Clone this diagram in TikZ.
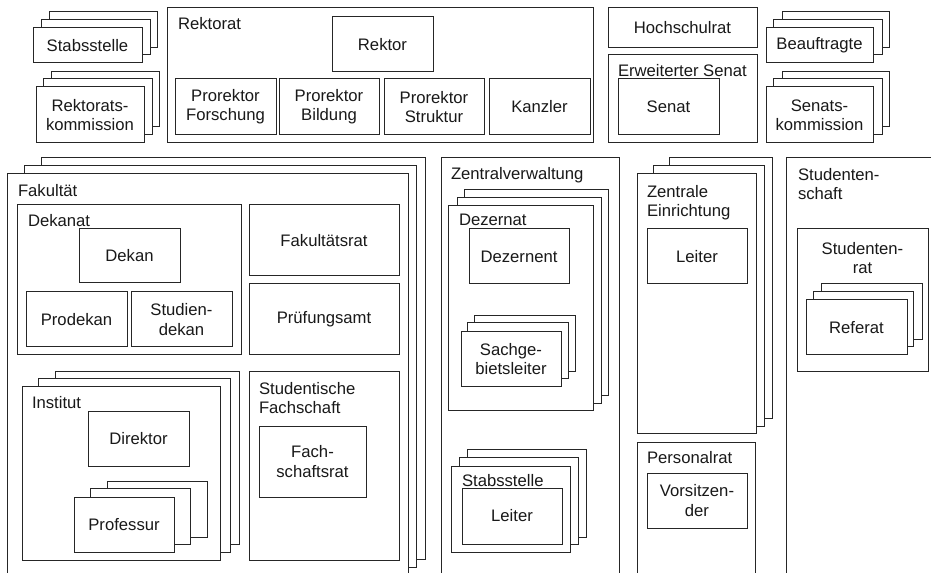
\documentclass[tikz,border=0pt]{standalone}
\usepackage{fontspec}
\setmainfont{Liberation Sans}
\newcommand\fs{\fontsize{12.5}{14.4}\selectfont}
\tikzset{
 box/.style={draw=black!85, fill=white, line width=0.75pt, inner sep=0pt, outer sep=0pt, align=center, font=\fs, text=black!90},
 lbl/.style={inner sep=0pt, outer sep=0pt, font=\fs, text=black!90},
}
\newcommand\bx[7][]{\node[box,minimum width={(#5-#3)*0.75pt},minimum height={(#6-#4)*0.75pt},#1] (#2) at ({(#3+#5)/2},{(#4+#6)/2}) {#7};}
\begin{document}
\begin{tikzpicture}[x=0.75pt,y=-0.75pt]
\clip (0,0) rectangle (931,573);
\fill[white] (0,0) rectangle (931,573);
% top-left stacks
\bx{stabA3}{49}{12}{157}{48}{}
\bx{stabA2}{41}{20}{150}{55}{}
\bx{stabA}{33}{28}{142}{63}{Stabsstelle}
\bx{rkA3}{51}{72}{159}{127}{}
\bx{rkA2}{43}{79}{152}{135}{}
\bx{rk}{36}{87}{144}{143}{Rektorats-\\kommission}
% Rektorat
\bx{rektorat}{167}{8}{593}{143}{}
\node[lbl,anchor=base west] (rektoratL) at (178,30) {Rektorat};
\bx{rektor}{332}{17}{433}{72}{Rektor}
\bx{prf}{175}{79}{276}{135}{Prorektor\\Forschung}
\bx{prb}{279}{79}{379}{135}{Prorektor\\Bildung}
\bx{prs}{384}{79}{484}{135}{Prorektor\\Struktur}
\bx{kanzler}{489}{79}{590}{135}{Kanzler}
% Hochschulrat / Senat
\bx{hsr}{608}{8}{757}{48}{Hochschulrat}
\bx{esenat}{608}{55}{757}{143}{}
\bx{senat}{618}{79}{719}{135}{Senat}
\node[lbl,anchor=base west] (esenatL) at (618,77) {Erweiterter Senat};
% Beauftragte / Senatskommission
\bx{bfA3}{782}{12}{889}{48}{}
\bx{bfA2}{773}{20}{882}{55}{}
\bx{bf}{766}{28}{873}{63}{Beauftragte}
\bx{skA3}{782}{72}{889}{127}{}
\bx{skA2}{773}{79}{882}{135}{}
\bx{sk}{766}{87}{873}{143}{Senats-\\kommission}
% Fakultaet
\bx{fak3}{41}{158}{425}{559}{}
\bx{fak2}{24}{166}{416}{567}{}
\bx{fak}{7}{174}{408}{590}{}
\node[lbl,anchor=base west] (fakL) at (18,197) {Fakultät};
\bx{dekanat}{17}{205}{241}{355}{}
\bx{dekan}{79}{229}{180}{283}{Dekan}
\node[lbl,anchor=base west] (dekanatL) at (28,227) {Dekanat};
\bx{prodekan}{26}{292}{127}{347}{Prodekan}
\bx{sdekan}{131}{292}{232}{347}{Studien-\\dekan}
\bx{fakrat}{249}{205}{399}{276}{Fakultätsrat}
\bx{pamt}{249}{284}{399}{355}{Prüfungsamt}
\bx{inst3}{55}{371}{239}{544}{}
\bx{inst2}{38}{378}{230}{552}{}
\bx{inst}{22}{386}{220}{560}{}
\node[lbl,anchor=base west] (instL) at (32,408) {Institut};
\bx{dir}{88}{411}{189}{466}{Direktor}
\bx{prof3}{107}{481}{207}{537}{}
\bx{prof2}{90}{488}{190}{544}{}
\bx{prof}{74}{497}{174}{552}{Professur}
\bx{sfs}{249}{371}{399}{560}{}
\node[lbl,anchor=north west,align=left] (sfsL) at (259,382) {Studentische\\Fachschaft};
\bx{fsr}{259}{426}{366}{497}{Fach-\\schaftsrat}
% Zentralverwaltung
\bx{zv}{441}{158}{619}{590}{}
\node[lbl,anchor=base west] (zvL) at (451,179.5) {Zentralverwaltung};
\bx{dez3}{464}{190}{608}{395}{}
\bx{dez2}{457}{198}{601}{403}{}
\bx{dez}{448}{206}{593}{410}{}
\bx{dezernent}{469}{229}{569}{284}{Dezernent}
\node[lbl,anchor=base west] (dezL) at (459,226) {Dezernat};
\bx{sgl3}{474}{316}{575}{371}{}
\bx{sgl2}{467}{323}{568}{378}{}
\bx{sgl}{461}{332}{561}{386}{Sachge-\\bietsleiter}
\bx{stb3}{467}{449}{586}{537}{}
\bx{stb2}{459}{457}{578}{544}{}
\bx{stb}{451}{466}{570}{552}{}
\bx{stbleiter}{462}{488}{562}{544}{Leiter}
\node[lbl,anchor=base west] (stbL) at (462,486.5) {Stabsstelle};
% Zentrale Einrichtung / Personalrat
\bx{ze3}{669}{158}{772}{418}{}
\bx{ze2}{653}{166}{764}{426}{}
\bx{ze}{637}{174}{756}{433}{}
\node[lbl,anchor=north west,align=left] (zeL) at (647,185) {Zentrale\\Einrichtung};
\bx{zeleiter}{647}{229}{747}{284}{Leiter}
\bx{pr}{637}{442}{755}{590}{}
\node[lbl,anchor=base west] (prL) at (647,463) {Personalrat};
\bx{vors}{647}{473}{747}{528}{Vorsitzen-\\der}
% Studentenschaft
\bx{sts}{786}{158}{950}{590}{}
\node[lbl,anchor=north west,align=left] (stsL) at (798,168) {Studenten-\\schaft};
\bx{str}{797}{229}{928}{371}{}
\node[lbl,anchor=north,align=center] (strL) at (862.5,242) {Studenten-\\rat};
\bx{ref3}{821}{284}{922}{340}{}
\bx{ref2}{813}{292}{913}{347}{}
\bx{ref}{806}{300}{907}{355}{Referat}
\end{tikzpicture}
\end{document}
